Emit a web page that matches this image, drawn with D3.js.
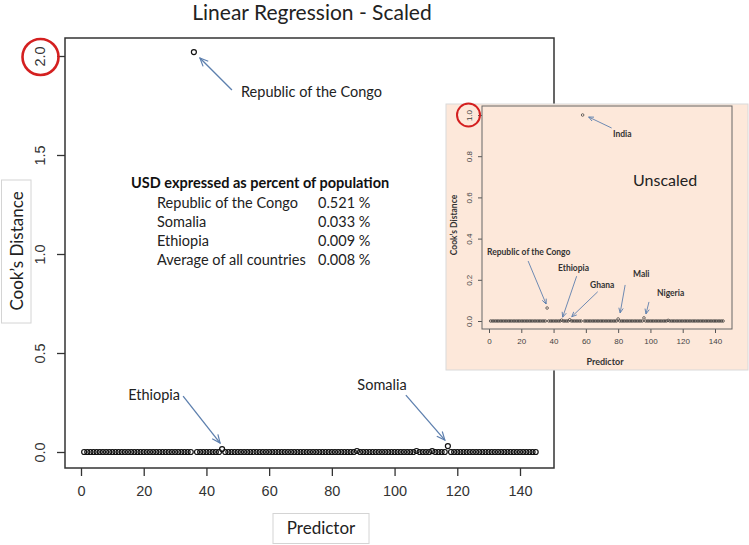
<!DOCTYPE html>
<html lang="en">
<head>
<meta charset="utf-8">
<title>Linear Regression - Scaled</title>
<style>
  body { margin: 0; background: #fff; }
  svg text { font-family: Lato, "Open Sans", sans-serif; }
  .tick text { font-family: "Liberation Sans", Arial, sans-serif; }
</style>
</head>
<body>
<script src="https://cdnjs.cloudflare.com/ajax/libs/d3/7.8.5/d3.min.js"></script>
<div id="chart"></div>
<script>
// tick labels
const xTicks = [0, 20, 40, 60, 80, 100, 120, 140];
const scaledTicks = [0, 0.5, 1.0, 1.5, 2.0];
const unscaledTicks = [0, 0.2, 0.4, 0.6, 0.8, 1.0];

// Cook's distance per predictor 1..145, scaled model
const scaledValues = [
  0, 0, 0, 0, 0, 0, 0, 0, 0, 0,
  0, 0, 0, 0, 0, 0, 0, 0, 0, 0,
  0, 0, 0, 0, 0, 0, 0, 0, 0, 0,
  0, 0, 0, 0, 0, 2.02, 0, 0, 0, 0,
  0, 0, 0, 0, 0.015, 0, 0, 0, 0, 0,
  0, 0, 0, 0, 0, 0, 0, 0, 0, 0,
  0, 0, 0, 0, 0, 0, 0, 0, 0, 0,
  0, 0, 0, 0, 0, 0, 0, 0, 0, 0,
  0, 0, 0, 0, 0, 0, 0, 0.005, 0, 0,
  0, 0, 0, 0, 0, 0, 0, 0, 0, 0,
  0, 0, 0, 0, 0, 0, 0.005, 0, 0, 0,
  0, 0.004, 0, 0, 0, 0, 0.03, 0, 0, 0,
  0, 0, 0, 0, 0, 0, 0, 0, 0, 0,
  0, 0, 0, 0, 0, 0, 0, 0, 0, 0,
  0, 0, 0, 0, 0
];

// Cook's distance per predictor 1..145, unscaled model (inset)
const unscaledValues = [
  0, 0, 0, 0, 0, 0, 0, 0, 0, 0,
  0, 0, 0, 0, 0, 0, 0, 0, 0, 0,
  0, 0, 0, 0, 0, 0, 0, 0, 0, 0,
  0, 0, 0, 0, 0, 0.063, 0, 0, 0, 0,
  0, 0, 0, 0, 0.004, 0, 0, 0, 0, 0.006,
  0, 0, 0, 0, 0, 0, 0, 1.0, 0, 0,
  0, 0, 0, 0, 0, 0, 0, 0, 0, 0,
  0, 0, 0, 0, 0, 0, 0, 0, 0, 0.01,
  0, 0, 0, 0, 0, 0, 0, 0, 0, 0,
  0, 0, 0, 0, 0, 0.015, 0, 0, 0, 0,
  0, 0, 0, 0, 0, 0, 0, 0, 0, 0,
  0.003, 0, 0, 0, 0, 0, 0, 0, 0, 0,
  0, 0, 0, 0, 0, 0, 0, 0, 0, 0,
  0, 0, 0, 0, 0, 0, 0, 0, 0, 0,
  0, 0, 0, 0, 0
];

// labelled points
const scaledLabels = ["Republic of the Congo", "Ethiopia", "Somalia"];
const scaledLabelIdx = [36, 45, 117];
const unscaledLabels = ["India", "Republic of the Congo", "Ethiopia", "Ghana", "Mali", "Nigeria"];
const unscaledLabelIdx = [58, 36, 45, 50, 80, 96];

// text table
const tableTitle = "USD expressed as percent of population";
const tableNames = ["Republic of the Congo", "Somalia", "Ethiopia", "Average of all countries"];
const tablePct = ["0.521 %", "0.033 %", "0.009 %", "0.008 %"];

const W = 749, H = 545;
const arrowCol = "#5d7fae";

const svg = d3.select("#chart").append("svg")
  .attr("width", W).attr("height", H);

const defs = svg.append("defs");
defs.append("marker")
  .attr("id", "arr").attr("viewBox", "-1 -5 11 10")
  .attr("refX", 9).attr("refY", 0)
  .attr("markerWidth", 10).attr("markerHeight", 10)
  .attr("markerUnits", "userSpaceOnUse")
  .attr("orient", "auto")
  .append("path").attr("d", "M0,-4L9,0L0,4")
  .attr("fill", "none").attr("stroke", arrowCol).attr("stroke-width", 1.3);
defs.append("marker")
  .attr("id", "arrS").attr("viewBox", "-1 -5 11 10")
  .attr("refX", 9).attr("refY", 0)
  .attr("markerWidth", 6).attr("markerHeight", 6)
  .attr("markerUnits", "userSpaceOnUse")
  .attr("orient", "auto")
  .append("path").attr("d", "M0,-4L9,0L0,4")
  .attr("fill", "none").attr("stroke", arrowCol).attr("stroke-width", 1.6);

// ---------- main plot ----------
const frame = {left: 65, right: 554, top: 38, bottom: 468};
const x = d3.scaleLinear().domain([0, 140]).range([81, 520]);
const y = d3.scaleLinear().domain([0, 2]).range([452, 56]);

svg.append("text")
  .attr("x", 312).attr("y", 20)
  .attr("text-anchor", "middle")
  .style("font-size", "21px").style("fill", "#222")
  .text("Linear Regression - Scaled");

const xAxis = svg.append("g")
  .attr("transform", `translate(0,${frame.bottom})`)
  .call(d3.axisBottom(x).tickValues(xTicks).tickSize(8).tickSizeOuter(0).tickPadding(10));
xAxis.select(".domain").remove();
xAxis.selectAll("line").attr("stroke", "#333").attr("stroke-width", 1.3);
xAxis.selectAll("text").style("font-size", "14.5px").attr("fill", "#333");

const yAxis = svg.append("g")
  .attr("transform", `translate(${frame.left},0)`)
  .call(d3.axisLeft(y).tickValues(scaledTicks).tickSize(8).tickSizeOuter(0).tickFormat(d3.format(".1f")));
yAxis.select(".domain").remove();
yAxis.selectAll("line").attr("stroke", "#333").attr("stroke-width", 1.3);
yAxis.selectAll("text")
  .attr("x", 0).attr("dy", 0)
  .attr("text-anchor", "middle")
  .attr("transform", "translate(-20,0) rotate(-90)")
  .style("font-size", "14.5px").attr("fill", "#333");

svg.append("rect")
  .attr("x", frame.left).attr("y", frame.top)
  .attr("width", frame.right - frame.left).attr("height", frame.bottom - frame.top)
  .attr("fill", "none").attr("stroke", "#333").attr("stroke-width", 1.5);

svg.append("g").selectAll("circle")
  .data(scaledValues)
  .join("circle")
  .attr("cx", (d, i) => x(i + 1))
  .attr("cy", d => y(d))
  .attr("r", 2.5)
  .attr("fill", "none").attr("stroke", "#111").attr("stroke-width", 1.2);

// annotation arrows: offsets from the point in pixels
const mainAnn = [
  {tip: [6, 6], tail: [38, 38], tx: 241, ty: 97, anchor: "start"},
  {tip: [-2, -6], tail: [-39, -53], tx: 180, ty: 400, anchor: "end"},
  {tip: [-3, -6], tail: [-42, -51], tx: 382, ty: 390, anchor: "middle"}
];
scaledLabels.forEach((lab, k) => {
  const idx = scaledLabelIdx[k];
  const px = x(idx), py = y(scaledValues[idx - 1]);
  const a = mainAnn[k];
  svg.append("line")
    .attr("x1", px + a.tail[0]).attr("y1", py + a.tail[1])
    .attr("x2", px + a.tip[0]).attr("y2", py + a.tip[1])
    .attr("stroke", arrowCol).attr("stroke-width", 1.3)
    .attr("marker-end", "url(#arr)");
  svg.append("text")
    .attr("x", a.tx).attr("y", a.ty)
    .attr("text-anchor", a.anchor)
    .style("font-size", "14.5px").style("fill", "#222")
    .text(lab);
});

// table of percentages
svg.append("text")
  .attr("x", 131).attr("y", 188)
  .style("font-size", "14.5px").style("font-weight", "bold").style("fill", "#111")
  .text(tableTitle);
tableNames.forEach((n, i) => {
  svg.append("text")
    .attr("x", 157).attr("y", 208 + i * 19)
    .style("font-size", "14.5px").style("fill", "#222")
    .text(n);
  svg.append("text")
    .attr("x", 318).attr("y", 208 + i * 19)
    .style("font-size", "14.5px").style("fill", "#222")
    .text(tablePct[i]);
});

// boxed axis labels
svg.append("rect")
  .attr("x", 1.5).attr("y", 180).attr("width", 29.5).attr("height", 143)
  .attr("fill", "#fff").attr("stroke", "#d4d4d4");
svg.append("text")
  .attr("transform", "translate(23,251) rotate(-90)")
  .attr("text-anchor", "middle")
  .style("font-size", "17px").style("fill", "#222")
  .text("Cook\u2019s Distance");

svg.append("rect")
  .attr("x", 273).attr("y", 513.5).attr("width", 96).attr("height", 30)
  .attr("fill", "#fff").attr("stroke", "#d4d4d4");
svg.append("text")
  .attr("x", 321).attr("y", 534)
  .attr("text-anchor", "middle")
  .style("font-size", "17px").style("fill", "#222")
  .text("Predictor");

svg.append("circle")
  .attr("cx", 40.5).attr("cy", 57).attr("r", 18)
  .attr("fill", "none").attr("stroke", "#d42020").attr("stroke-width", 2.6);

// ---------- inset (unscaled) ----------
const box = {left: 446, top: 104, right: 748, bottom: 370};
const iframe = {left: 482, right: 732, top: 106, bottom: 329};
const ix = d3.scaleLinear().domain([0, 140]).range([489, 715]);
const iy = d3.scaleLinear().domain([0, 1]).range([321, 115]);

svg.append("rect")
  .attr("x", box.left).attr("y", box.top)
  .attr("width", box.right - box.left).attr("height", box.bottom - box.top)
  .attr("fill", "#fde8da").attr("stroke", "#d9d9d9");

const ixAxis = svg.append("g")
  .attr("transform", `translate(0,${iframe.bottom})`)
  .call(d3.axisBottom(ix).tickValues(xTicks).tickSize(4).tickSizeOuter(0).tickPadding(5));
ixAxis.select(".domain").remove();
ixAxis.selectAll("line").attr("stroke", "#555");
ixAxis.selectAll("text").style("font-size", "8px").attr("fill", "#444");

const iyAxis = svg.append("g")
  .attr("transform", `translate(${iframe.left},0)`)
  .call(d3.axisLeft(iy).tickValues(unscaledTicks).tickSize(4).tickSizeOuter(0).tickFormat(d3.format(".1f")));
iyAxis.select(".domain").remove();
iyAxis.selectAll("line").attr("stroke", "#555");
iyAxis.selectAll("text")
  .attr("x", 0).attr("dy", 0)
  .attr("text-anchor", "middle")
  .attr("transform", "translate(-10,0) rotate(-90)")
  .style("font-size", "8px").attr("fill", "#444");

svg.append("rect")
  .attr("x", iframe.left).attr("y", iframe.top)
  .attr("width", iframe.right - iframe.left).attr("height", iframe.bottom - iframe.top)
  .attr("fill", "none").attr("stroke", "#666").attr("stroke-width", 1);

svg.append("g").selectAll("circle")
  .data(unscaledValues)
  .join("circle")
  .attr("cx", (d, i) => ix(i + 1))
  .attr("cy", d => iy(d))
  .attr("r", 1.3)
  .attr("fill", "none").attr("stroke", "#333").attr("stroke-width", 0.7);

const insetAnn = [
  {tip: [6, 2], tail: [29, 13], tx: 613, ty: 137},
  {tip: [-1, -4], tail: [-19, -47], tx: 487, ty: 255},
  {tip: [1, -3], tail: [15, -44], tx: 558, ty: 271},
  {tip: [2, -3], tail: [28, -28], tx: 590, ty: 288},
  {tip: [2, -6], tail: [7, -34], tx: 633, ty: 277},
  {tip: [2, -4], tail: [5, -16], tx: 657, ty: 296}
];
unscaledLabels.forEach((lab, k) => {
  const idx = unscaledLabelIdx[k];
  const px = ix(idx), py = iy(unscaledValues[idx - 1]);
  const a = insetAnn[k];
  svg.append("line")
    .attr("x1", px + a.tail[0]).attr("y1", py + a.tail[1])
    .attr("x2", px + a.tip[0]).attr("y2", py + a.tip[1])
    .attr("stroke", arrowCol).attr("stroke-width", 0.9)
    .attr("marker-end", "url(#arrS)");
  svg.append("text")
    .attr("x", a.tx).attr("y", a.ty)
    .style("font-size", "8.5px").style("font-weight", "bold").style("fill", "#333")
    .text(lab);
});

svg.append("text")
  .attr("x", 633).attr("y", 186)
  .style("font-size", "16px").style("fill", "#222")
  .text("Unscaled");

svg.append("text")
  .attr("transform", "translate(457,225) rotate(-90)")
  .attr("text-anchor", "middle")
  .style("font-size", "8.5px").style("font-weight", "bold").style("fill", "#333")
  .text("Cook\u2019s Distance");

svg.append("text")
  .attr("x", 605).attr("y", 365)
  .attr("text-anchor", "middle")
  .style("font-size", "9px").style("font-weight", "bold").style("fill", "#333")
  .text("Predictor");

svg.append("circle")
  .attr("cx", 468.5).attr("cy", 115).attr("r", 11.5)
  .attr("fill", "none").attr("stroke", "#d42020").attr("stroke-width", 2);
</script>
</body>
</html>
